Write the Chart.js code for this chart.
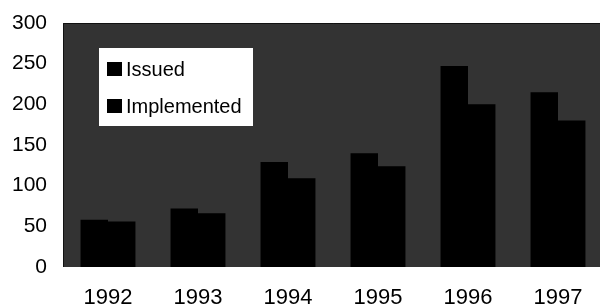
<!DOCTYPE html>
<html>
<head>
<meta charset="utf-8">
<script src="https://cdn.jsdelivr.net/npm/chart.js@4/dist/chart.umd.min.js"></script>
<style>
html,body{margin:0;padding:0;background:#fff;overflow:hidden;}
#wrap{width:603px;height:308px;}
</style>
</head>
<body>
<div id="wrap"><canvas id="c" width="603" height="308"></canvas></div>
<script>
const years = ['1992','1993','1994','1995','1996','1997'];
const issued = [58, 72, 129, 140, 247, 215];
const implemented = [56, 66, 109, 124, 200, 180];
const yTicks = [0, 50, 100, 150, 200, 250, 300];

const FONT = '"Liberation Sans", Arial, sans-serif';

const bgPlugin = {
  id: 'plotBg',
  beforeDraw(chart) {
    const {ctx, chartArea: a} = chart;
    ctx.save();
    ctx.fillStyle = '#333333';
    ctx.fillRect(a.left, a.top, a.right - a.left, a.bottom - a.top);
    ctx.strokeStyle = '#111';
    ctx.lineWidth = 1;
    ctx.beginPath();
    ctx.moveTo(a.left + 0.5, a.bottom);
    ctx.lineTo(a.left + 0.5, a.top + 0.5);
    ctx.lineTo(a.right, a.top + 0.5);
    ctx.stroke();
    ctx.restore();
  },
  afterDraw(chart) {
    const {ctx, chartArea: a} = chart;
    const x0 = a.left + 36, y0 = a.top + 25;
    ctx.save();
    ctx.fillStyle = '#ffffff';
    ctx.fillRect(x0, y0, 154, 78);
    ctx.font = '20px ' + FONT;
    ctx.textBaseline = 'middle';
    chart.data.datasets.forEach((ds, i) => {
      const cy = y0 + 21 + i * 37;
      ctx.fillStyle = ds.backgroundColor;
      ctx.fillRect(x0 + 8, cy - 7, 15, 14);
      ctx.fillStyle = '#000';
      ctx.fillText(ds.label, x0 + 27, cy + 1);
    });
    ctx.restore();
  }
};

new Chart(document.getElementById('c'), {
  type: 'bar',
  data: {
    labels: years,
    datasets: [
      {label: 'Issued', data: issued, backgroundColor: '#000000', categoryPercentage: 0.61, barPercentage: 1.0},
      {label: 'Implemented', data: implemented, backgroundColor: '#000000', categoryPercentage: 0.61, barPercentage: 1.0}
    ]
  },
  options: {
    responsive: false,
    animation: false,
    devicePixelRatio: 1,
    layout: {padding: {top: 23, right: 0, left: 0, bottom: 0}},
    plugins: {legend: {display: false}, tooltip: {enabled: false}},
    scales: {
      x: {
        grid: {display: false, drawTicks: false},
        border: {display: false},
        ticks: {color: '#000', padding: 18, font: {family: FONT, size: 22}},
        afterFit(s) { s.height = 41; s.paddingLeft = 0; s.paddingRight = 0; }
      },
      y: {
        min: 0, max: 300,
        afterBuildTicks(s) { s.ticks = yTicks.map(v => ({value: v})); },
        grid: {display: false, drawTicks: false},
        border: {display: false},
        ticks: {color: '#000', padding: 16, font: {family: FONT, size: 21}},
        afterFit(s) { s.width = 63; s.paddingTop = 0; s.paddingBottom = 0; }
      }
    }
  },
  plugins: [bgPlugin]
});
</script>
</body>
</html>
